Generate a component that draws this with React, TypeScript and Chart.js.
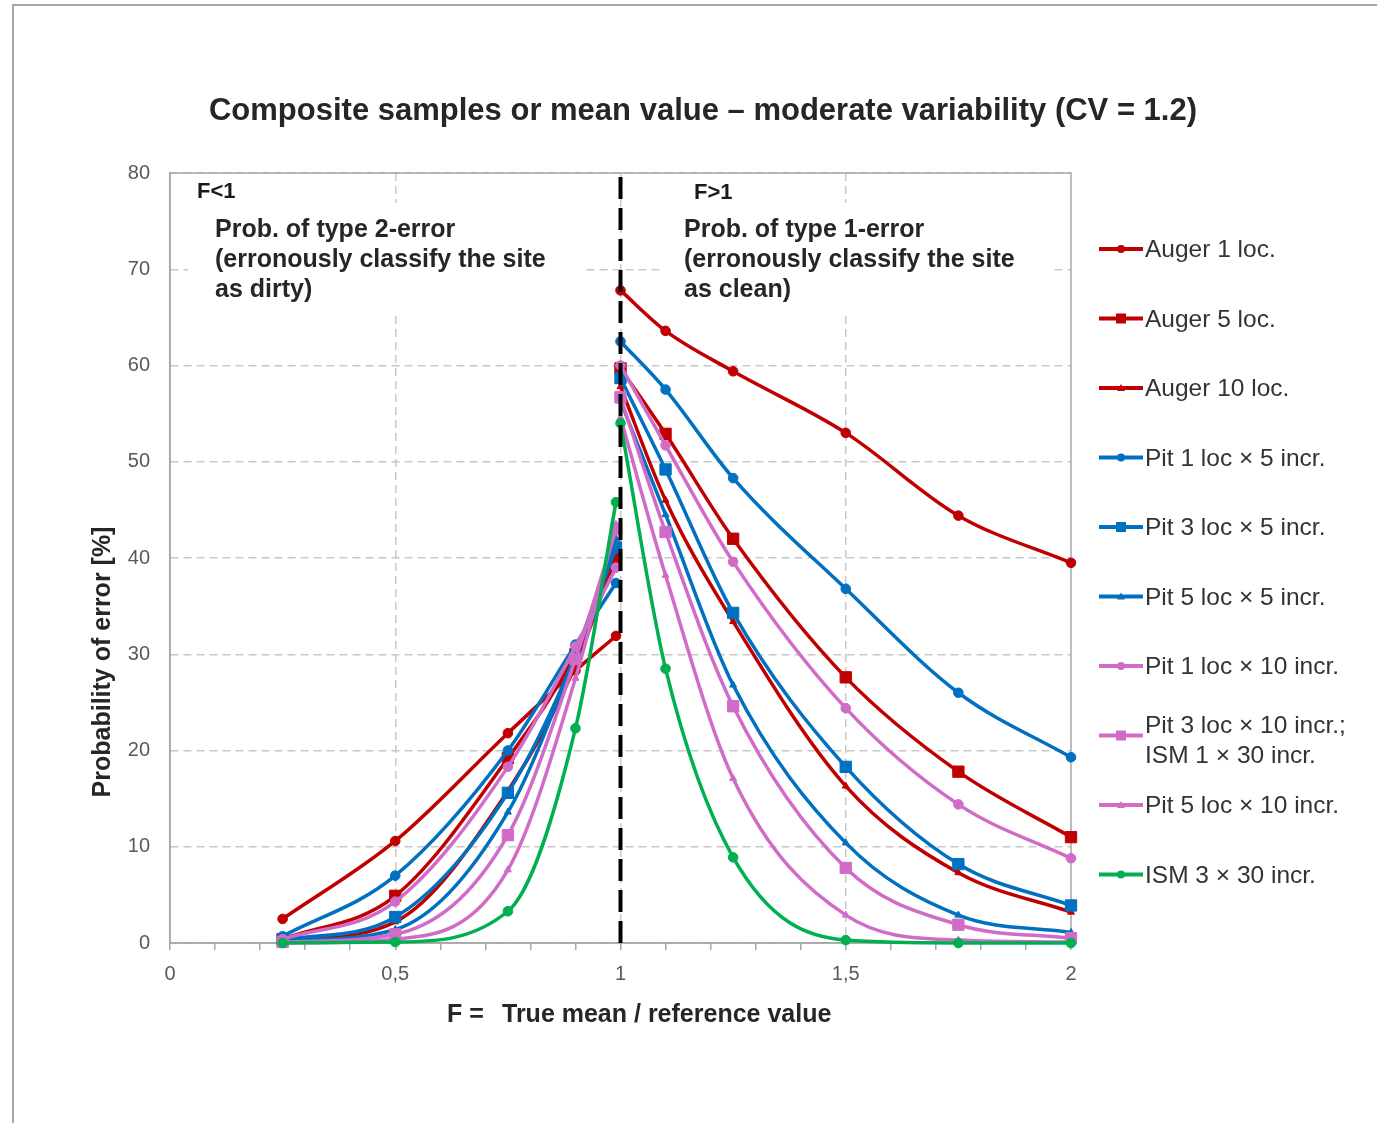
import React, { useEffect, useRef } from 'react';
import { Chart, registerables } from 'chart.js';

Chart.register(...registerables);

// ---------- data ----------
const X_LEFT = [0.25, 0.5, 0.75, 0.9, 0.99];
const X_RIGHT = [1, 1.1, 1.25, 1.5, 1.75, 2];

const auger1Left = [2.5, 10.6, 21.8, 28.3, 31.9];
const auger1Right = [67.8, 63.6, 59.4, 53.0, 44.4, 39.5];
const auger5Left = [0.4, 4.9, 19.2, 30.0, 39.8];
const auger5Right = [59.7, 52.9, 42.0, 27.6, 17.8, 11.0];
const auger10Left = [0.2, 2.2, 15.8, 28.8, 40.5];
const auger10Right = [57.8, 46.0, 33.4, 16.3, 7.3, 3.2];
const pit1x5Left = [0.7, 7.0, 20.0, 31.0, 37.4];
const pit1x5Right = [62.5, 57.5, 48.3, 36.8, 26.0, 19.3];
const pit3x5Left = [0.3, 2.7, 15.6, 29.8, 41.1];
const pit3x5Right = [58.7, 49.2, 34.3, 18.3, 8.2, 3.9];
const pit5x5Left = [0.2, 1.4, 13.6, 30.0, 42.0];
const pit5x5Right = [56.3, 44.5, 26.8, 10.4, 2.9, 1.1];
const pit1x10Left = [0.4, 4.3, 18.3, 30.8, 39.0];
const pit1x10Right = [60.0, 51.7, 39.6, 24.4, 14.4, 8.8];
const pit3x10Left = [0.1, 0.9, 11.2, 29.5, 43.0];
const pit3x10Right = [56.7, 42.7, 24.6, 7.8, 1.9, 0.5];
const pit5x10Left = [0.0, 0.4, 7.6, 27.5, 43.5];
const pit5x10Right = [54.6, 38.2, 17.1, 2.9, 0.3, 0.1];
const ism3x30Left = [0.0, 0.1, 3.3, 22.3, 45.8];
const ism3x30Right = [54.0, 28.5, 8.9, 0.3, 0.0, 0.0];

const SERIES_LABELS = [
  'Auger 1 loc.',
  'Auger 5 loc.',
  'Auger 10 loc.',
  'Pit 1 loc × 5 incr.',
  'Pit 3 loc × 5 incr.',
  'Pit 5 loc × 5 incr.',
  'Pit 1 loc × 10 incr.',
  'Pit 3 loc × 10 incr.;\nISM 1 × 30 incr.',
  'Pit 5 loc × 10 incr.',
  'ISM 3 × 30 incr.',
];
const SERIES_LEFT = [auger1Left, auger5Left, auger10Left, pit1x5Left, pit3x5Left, pit5x5Left, pit1x10Left, pit3x10Left, pit5x10Left, ism3x30Left];
const SERIES_RIGHT = [auger1Right, auger5Right, auger10Right, pit1x5Right, pit3x5Right, pit5x5Right, pit1x10Right, pit3x10Right, pit5x10Right, ism3x30Right];

const RED = '#C00000';
const BLUE = '#0070C0';
const PINK = '#D06CC8';
const GREEN = '#00B050';
const SERIES_COLORS = [RED, RED, RED, BLUE, BLUE, BLUE, PINK, PINK, PINK, GREEN];
const SERIES_MARKERS = ['circle', 'rect', 'triangle', 'circle', 'rect', 'triangle', 'circle', 'rect', 'triangle', 'circle'];

const Y_TICK_MIN = 0;
const Y_TICK_MAX = 80;
const Y_TICK_STEP = 10;
const X_TICK_MIN = 0;
const X_TICK_MAX = 2;
const X_MINOR_STEP = 0.1;
const THRESHOLD_F = 1;

const TITLE = 'Composite samples or mean value – moderate variability (CV = 1.2)';
const Y_TITLE = 'Probability of error [%]';
const X_TITLE_A = 'F =';
const X_TITLE_B = 'True mean / reference value';
const LEFT_TAG = 'F<1';
const RIGHT_TAG = 'F>1';
const LEFT_NOTE = ['Prob. of type 2-error', '(erronously classify the site', 'as dirty)'];
const RIGHT_NOTE = ['Prob. of type 1-error', '(erronously classify the site', 'as clean)'];

const FONT = '"Liberation Sans", Arial, sans-serif';

function markerRadius(style: string) {
  if (style === 'rect') return 8;
  if (style === 'triangle') return 4;
  return 4.8;
}

function buildPoints(left: number[], right: number[]) {
  return [
    ...X_LEFT.map((x, i) => ({ x, y: left[i] })),
    { x: (X_LEFT[X_LEFT.length - 1] + X_RIGHT[0]) / 2, y: null as any },
    ...X_RIGHT.map((x, i) => ({ x, y: right[i] })),
  ];
}

const decorPlugin = {
  id: 'decor',
  beforeDraw(chart: any) {
    const { ctx } = chart;
    ctx.save();
    ctx.fillStyle = '#ffffff';
    ctx.fillRect(0, 0, chart.width, chart.height);
    ctx.strokeStyle = '#A6A6A6';
    ctx.lineWidth = 2;
    ctx.beginPath();
    ctx.moveTo(13, chart.height);
    ctx.lineTo(13, 5);
    ctx.lineTo(chart.width, 5);
    ctx.stroke();
    ctx.restore();
  },
  beforeDatasetsDraw(chart: any) {
    const { ctx, chartArea: a } = chart;
    ctx.save();
    ctx.strokeStyle = '#A6A6A6';
    ctx.lineWidth = 1.5;
    ctx.strokeRect(a.left, a.top, a.right - a.left, a.bottom - a.top);
    // white text boxes
    ctx.fillStyle = '#ffffff';
    ctx.fillRect(188, 203, 397, 113);
    ctx.fillRect(660, 203, 390, 113);
    // tags
    ctx.fillStyle = '#1a1a1a';
    ctx.textAlign = 'left';
    ctx.textBaseline = 'alphabetic';
    ctx.font = `bold 22px ${FONT}`;
    ctx.fillText(LEFT_TAG, 197, 198);
    ctx.fillText(RIGHT_TAG, 694, 199);
    ctx.fillStyle = '#262626';
    ctx.font = `bold 25px ${FONT}`;
    LEFT_NOTE.forEach((t, i) => ctx.fillText(t, 215, 237 + i * 30));
    RIGHT_NOTE.forEach((t, i) => ctx.fillText(t, 684, 237 + i * 30));
    ctx.restore();
  },
  afterDraw(chart: any) {
    const { ctx } = chart;
    ctx.save();
    // title
    ctx.fillStyle = '#262626';
    ctx.textAlign = 'center';
    ctx.textBaseline = 'middle';
    ctx.font = `bold 31px ${FONT}`;
    ctx.fillText(TITLE, 703, 111);
    // x title
    ctx.textAlign = 'left';
    ctx.textBaseline = 'middle';
    ctx.font = `bold 25px ${FONT}`;
    ctx.fillText(X_TITLE_A, 447, 1015);
    ctx.fillText(X_TITLE_B, 502, 1015);
    // y title
    ctx.save();
    ctx.translate(103, 662);
    ctx.rotate(-Math.PI / 2);
    ctx.textAlign = 'center';
    ctx.textBaseline = 'middle';
    ctx.fillText(Y_TITLE, 0, 0);
    ctx.restore();
    // legend
    const ds = chart.data.datasets.filter((d: any) => d.isSeries);
    ds.forEach((d: any, i: number) => {
      const cy = 249 + i * 69.5;
      ctx.strokeStyle = d.borderColor;
      ctx.lineWidth = 4;
      ctx.beginPath();
      ctx.moveTo(1099, cy);
      ctx.lineTo(1143, cy);
      ctx.stroke();
      const st = d.pointStyle;
      ctx.fillStyle = d.borderColor;
      ctx.beginPath();
      if (st === 'circle') {
        ctx.arc(1121, cy, 4, 0, Math.PI * 2);
        ctx.fill();
      } else if (st === 'rect') {
        ctx.fillRect(1116, cy - 5, 10, 10);
      } else {
        ctx.moveTo(1121, cy - 4);
        ctx.lineTo(1125, cy + 3);
        ctx.lineTo(1117, cy + 3);
        ctx.closePath();
        ctx.fill();
      }
      ctx.fillStyle = '#333333';
      ctx.font = `24.5px ${FONT}`;
      ctx.textAlign = 'left';
      ctx.textBaseline = 'alphabetic';
      const lines = String(d.label).split('\n');
      if (lines.length === 1) {
        ctx.fillText(lines[0], 1145, cy + 8);
      } else {
        ctx.fillText(lines[0], 1145, cy - 3);
        ctx.fillText(lines[1], 1145, cy + 27);
      }
    });
    ctx.restore();
  },
};

export default function App() {
  const ref = useRef<HTMLCanvasElement | null>(null);

  useEffect(() => {
    if (!ref.current) return;
    const datasets: any[] = [
      {
        label: 'F = 1',
        data: [
          { x: THRESHOLD_F, y: Y_TICK_MIN },
          { x: THRESHOLD_F, y: Y_TICK_MAX },
        ],
        borderColor: '#000000',
        borderWidth: 4,
        borderDash: [22, 9],
        pointRadius: 0,
        order: 0,
        clip: false,
      },
      ...SERIES_LABELS.map((label, i) => ({
        label,
        isSeries: true,
        data: buildPoints(SERIES_LEFT[i], SERIES_RIGHT[i]),
        borderColor: SERIES_COLORS[i],
        backgroundColor: SERIES_COLORS[i],
        pointBackgroundColor: SERIES_COLORS[i],
        pointBorderColor: SERIES_COLORS[i],
        pointBorderWidth: 1,
        pointStyle: SERIES_MARKERS[i],
        pointRadius: markerRadius(SERIES_MARKERS[i]),
        borderWidth: 3.5,
        cubicInterpolationMode: 'monotone',
        spanGaps: false,
        order: 20 - i,
        clip: false,
      })),
    ];

    const isMajor = (v: number) => Math.abs(v * 2 - Math.round(v * 2)) < 1e-6;

    const chart = new Chart(ref.current, {
      type: 'line',
      data: { datasets },
      plugins: [decorPlugin],
      options: {
        responsive: false,
        animation: false,
        events: [],
        devicePixelRatio: 1,
        layout: { padding: { left: 80, right: 306, top: 173, bottom: 120 } },
        plugins: {
          legend: { display: false },
          title: { display: false },
          tooltip: { enabled: false },
        },
        scales: {
          x: {
            type: 'linear',
            min: X_TICK_MIN,
            max: X_TICK_MAX,
            afterFit: (s: any) => {
              s.height = 60;
            },
            ticks: {
              stepSize: X_MINOR_STEP,
              autoSkip: false,
              maxRotation: 0,
              padding: 12,
              color: '#595959',
              font: { family: FONT, size: 20 },
              callback: (v: any) => {
                const n = Number(v);
                if (!isMajor(n)) return '';
                return String(Math.round(n * 2) / 2).replace('.', ',');
              },
            },
            grid: {
              drawTicks: true,
              tickLength: 7,
              tickColor: '#A6A6A6',
              tickWidth: 1.5,
              lineWidth: 1.5,
              color: (c: any) => {
                const v = c.tick ? c.tick.value : 0;
                if (!isMajor(v) || v <= X_TICK_MIN || v >= X_TICK_MAX) return 'rgba(0,0,0,0)';
                return '#C8C8C8';
              },
            },
            border: { display: true, color: '#A6A6A6', width: 1.5, dash: [8, 5] },
          },
          y: {
            type: 'linear',
            min: Y_TICK_MIN,
            max: Y_TICK_MAX,
            afterFit: (s: any) => {
              s.width = 90;
            },
            ticks: {
              stepSize: Y_TICK_STEP,
              padding: 20,
              color: '#595959',
              font: { family: FONT, size: 20 },
            },
            grid: {
              drawTicks: false,
              lineWidth: 1.5,
              color: '#C8C8C8',
            },
            border: { display: true, color: '#A6A6A6', width: 1.5, dash: [8, 5] },
          },
        },
      } as any,
    });
    return () => chart.destroy();
  }, []);

  return (
    <div style={{ position: 'absolute', left: 0, top: 0, width: 1377, height: 1123, background: '#fff' }}>
      <canvas ref={ref} width={1377} height={1123} style={{ display: 'block', width: 1377, height: 1123 }} />
    </div>
  );
}
